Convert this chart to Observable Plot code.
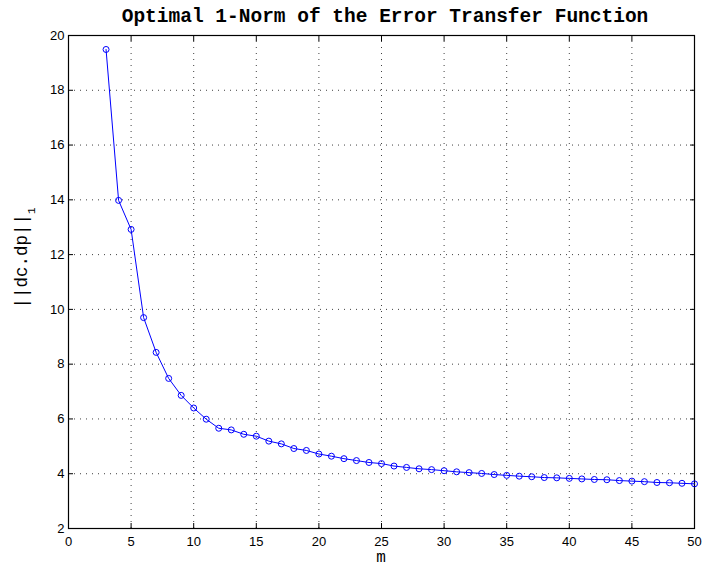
<!DOCTYPE html>
<html>
<head>
<meta charset="utf-8">
<script src="https://cdn.jsdelivr.net/npm/d3@7"></script>
<script src="https://cdn.jsdelivr.net/npm/@observablehq/plot@0.6"></script>
<style>
  html, body { margin: 0; padding: 0; background: #fff; }
  #chart { width: 704px; height: 570px; }
</style>
</head>
<body>
<div id="chart"></div>
<script>
const titleText = "Optimal 1-Norm of the Error Transfer Function";
const xLabel = "m";
const yLabelMain = "||dc.dp||";
const yLabelSub = "1";

const mValues = [3,4,5,6,7,8,9,10,11,12,13,14,15,16,17,18,19,20,21,22,23,24,25,26,27,28,29,30,31,32,33,34,35,36,37,38,39,40,41,42,43,44,45,46,47,48,49,50];
const normValues = [19.49,13.98,12.92,9.70,8.43,7.48,6.86,6.40,5.99,5.66,5.60,5.44,5.37,5.19,5.09,4.92,4.85,4.72,4.64,4.55,4.48,4.41,4.37,4.28,4.23,4.18,4.15,4.11,4.07,4.04,4.01,3.97,3.94,3.91,3.89,3.86,3.85,3.83,3.81,3.79,3.78,3.75,3.73,3.71,3.68,3.67,3.65,3.63];

const xTicks = [0,5,10,15,20,25,30,35,40,45,50];
const yTicks = [2,4,6,8,10,12,14,16,18,20];

const data = mValues.map((m, i) => ({m, v: normValues[i]}));

const font = "'Liberation Sans', Arial, sans-serif";
const mono = "'Liberation Mono', 'Courier New', monospace";
const blank = () => "";

const plot = Plot.plot({
  width: 704,
  height: 570,
  marginLeft: 68,
  marginRight: 10,
  marginTop: 35,
  marginBottom: 42,
  style: {fontFamily: font, fontSize: "13px", background: "#fff", color: "#000"},
  x: {domain: [0, 50], ticks: xTicks},
  y: {domain: [2, 20], ticks: yTicks},
  marks: [
    Plot.gridX(xTicks.slice(1, -1), {stroke: "#000", strokeOpacity: 0.75, strokeDasharray: "1,5"}),
    Plot.gridY(yTicks.slice(1, -1), {stroke: "#000", strokeOpacity: 0.75, strokeDasharray: "1,5"}),
    Plot.axisX(xTicks, {anchor: "bottom", tickSize: -5, tickFormat: blank, label: null}),
    Plot.axisX(xTicks, {anchor: "top", tickSize: -5, tickFormat: blank, label: null}),
    Plot.axisY(yTicks, {anchor: "left", tickSize: -5, tickFormat: blank, label: null}),
    Plot.axisY(yTicks, {anchor: "right", tickSize: -5, tickFormat: blank, label: null}),
    Plot.axisX(xTicks, {anchor: "bottom", tickSize: 0, tickPadding: 8, fontSize: 13, label: null}),
    Plot.axisY(yTicks, {anchor: "left", tickSize: 0, tickPadding: 4, fontSize: 13, label: null}),
    Plot.frame({stroke: "#000", strokeWidth: 1.2}),
    Plot.line(data, {x: "m", y: "v", stroke: "#0000ff", strokeWidth: 1}),
    Plot.dot(data, {x: "m", y: "v", r: 3, stroke: "#0000ff", fill: "none", strokeWidth: 1})
  ]
});

const svg = d3.select(plot);
svg.append("text")
  .attr("x", 385).attr("y", 22)
  .attr("text-anchor", "middle")
  .attr("font-family", mono)
  .attr("font-weight", "bold")
  .attr("font-size", 19.5)
  .attr("fill", "#000")
  .text(titleText);

svg.append("text")
  .attr("x", 381).attr("y", 562)
  .attr("text-anchor", "middle")
  .attr("font-family", mono)
  .attr("font-size", 16)
  .attr("fill", "#000")
  .text(xLabel);

const yl = svg.append("text")
  .attr("transform", "translate(27,258) rotate(-90)")
  .attr("text-anchor", "middle")
  .attr("font-family", mono)
  .attr("font-size", 17.5)
  .attr("fill", "#000");
yl.append("tspan").text(yLabelMain);
yl.append("tspan").attr("dy", 8).attr("font-size", 11).text(yLabelSub);

document.getElementById("chart").appendChild(plot);
</script>
</body>
</html>
